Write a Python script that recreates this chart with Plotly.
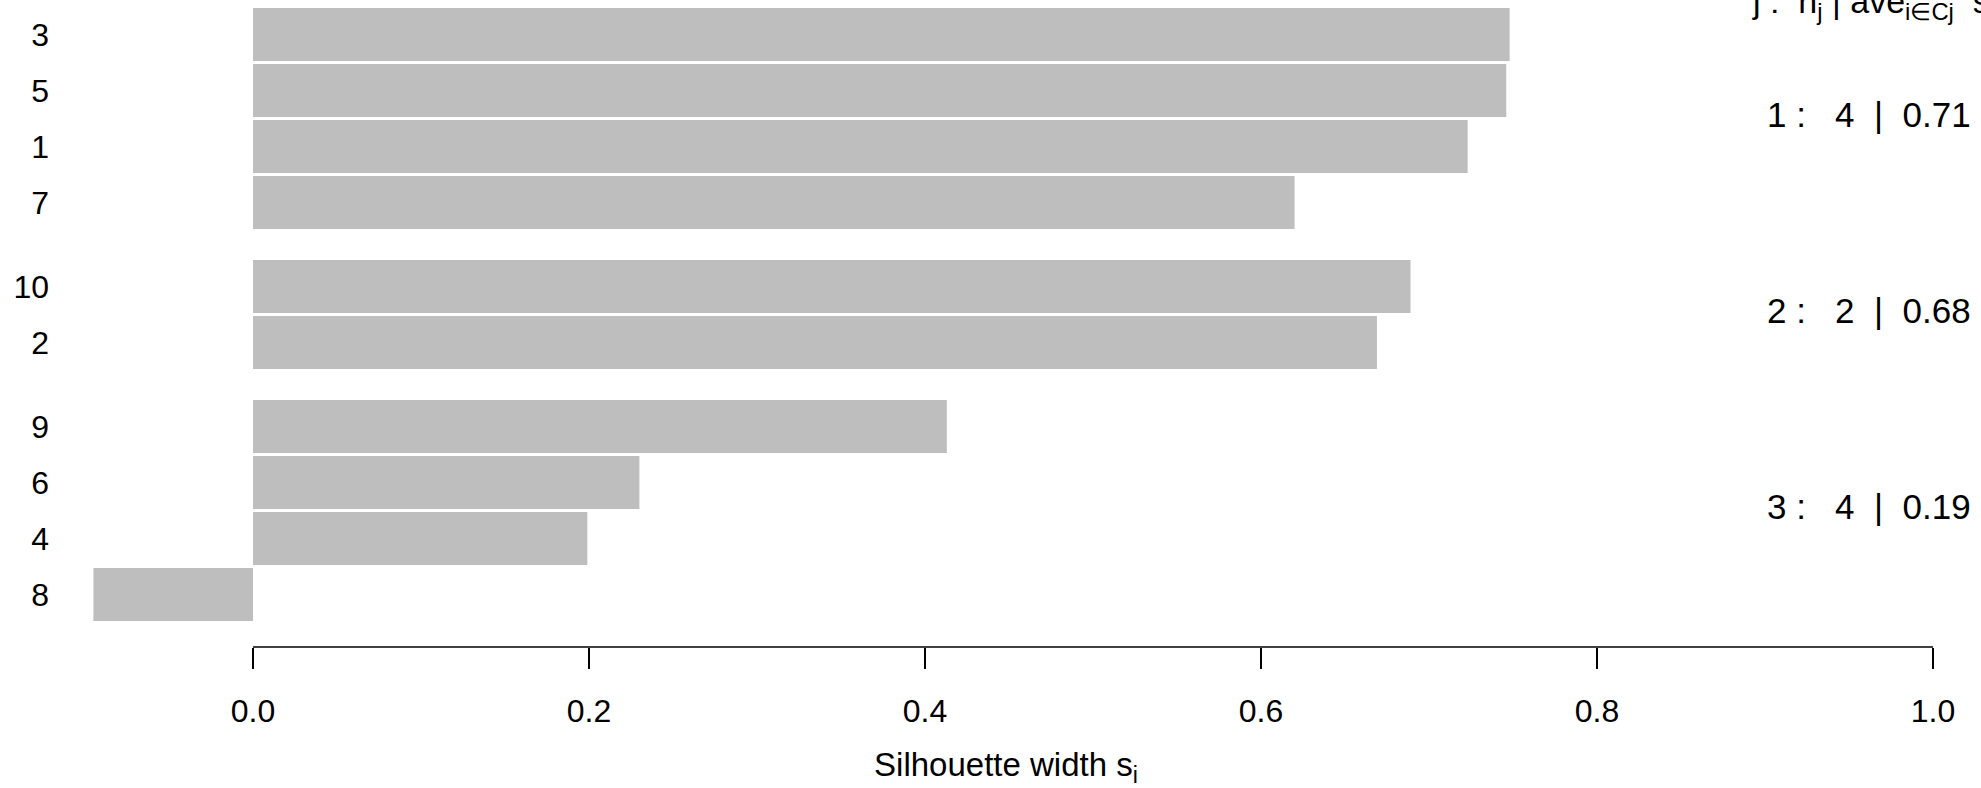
import plotly.graph_objects as go

# ---- data ----
obs_labels = ["3", "5", "1", "7", "10", "2", "9", "6", "4", "8"]
sil_width = [0.748, 0.746, 0.723, 0.620, 0.689, 0.669, 0.413, 0.230, 0.199, -0.095]
cluster = [1, 1, 1, 1, 2, 2, 3, 3, 3, 3]
cluster_ids = [1, 2, 3]
cluster_n = [4, 2, 4]
cluster_avg = ["0.71", "0.68", "0.19"]
x_ticks = [0.0, 0.2, 0.4, 0.6, 0.8, 1.0]
x_ticktext = ["0.0", "0.2", "0.4", "0.6", "0.8", "1.0"]

# bar positions (barplot with space 0.5 between clusters)
pos = []
p = 0.0
for i, c in enumerate(cluster):
    if i > 0:
        p += 1.0 + (0.5 if c != cluster[i - 1] else 0.0)
    pos.append(p)

FONT = "Liberation Sans, Arial, sans-serif"
FS = 32
NB = "\u00a0"

L, R, T, B = 50, 1962, 0, 647  # plot area in page pixels
x_left = (L - 253) / 1680
x_right = (R - 253) / 1680

def px_to_paper_x(px):
    return (px - L) / (R - L)

def py_to_paper_y(py):
    return 1 - (py - T) / (B - T)

fig = go.Figure()
fig.add_trace(go.Bar(
    x=sil_width, y=pos, orientation="h", width=0.946,
    marker=dict(color="#BEBEBE", line=dict(width=0)),
    showlegend=False, hoverinfo="skip",
))

# axis line from 0 to 1
fig.add_shape(type="line", xref="x", yref="paper", x0=0, x1=1, y0=0, y1=0,
              line=dict(color="black", width=1.6))

# cluster statistics
for j, n, a in zip(cluster_ids, cluster_n, cluster_avg):
    ys = [pp for pp, c in zip(pos, cluster) if c == j]
    yc = sum(ys) / len(ys)
    txt = f"{j}{NB}:{NB}{NB}{NB}{n}{NB}{NB}|{NB}{NB}{a}"
    fig.add_annotation(x=px_to_paper_x(1973), y=yc, xref="paper", yref="y", text=txt,
                       showarrow=False, xanchor="right", yanchor="middle", yshift=4,
                       font=dict(family=FONT, size=35, color="black"))

# header (partly above the top edge)
fig.add_annotation(x=px_to_paper_x(1750), y=py_to_paper_y(27), xref="paper", yref="paper",
                   text=(f"j{NB}:{NB}{NB}n<sub>j</sub>{NB}|{NB}"
                         f"ave<sub>i\u2208Cj</sub>{NB}{NB}s<sub>i</sub>"),
                   showarrow=False, xanchor="left", yanchor="bottom",
                   font=dict(family=FONT, size=34, color="black"))

fig.update_layout(
    width=1981, height=788,
    margin=dict(l=L, r=1981 - R, t=T, b=788 - B, pad=0),
    paper_bgcolor="white", plot_bgcolor="white",
    font=dict(family=FONT, size=FS, color="black"),
    xaxis=dict(range=[x_left, x_right], showgrid=False, zeroline=False, showline=False,
               tickmode="array", tickvals=x_ticks, ticktext=x_ticktext,
               ticks="outside", ticklen=21, tickwidth=1.6, tickcolor="black",
               ticklabelstandoff=15,
               tickfont=dict(family=FONT, size=FS, color="black"),
               title=dict(text="Silhouette width s<sub>i</sub>", standoff=27,
                          font=dict(family=FONT, size=33, color="black"))),
    yaxis=dict(range=[(B - 34.5) / 56, (T - 34.5) / 56], showgrid=False, zeroline=False,
               showline=False, tickmode="array", tickvals=pos, ticktext=obs_labels,
               ticks="", ticklabelstandoff=0,
               tickfont=dict(family=FONT, size=FS, color="black")),
)

fig.write_html("out.html", config={"displayModeBar": False},
               post_script="document.body.style.margin='0';")
